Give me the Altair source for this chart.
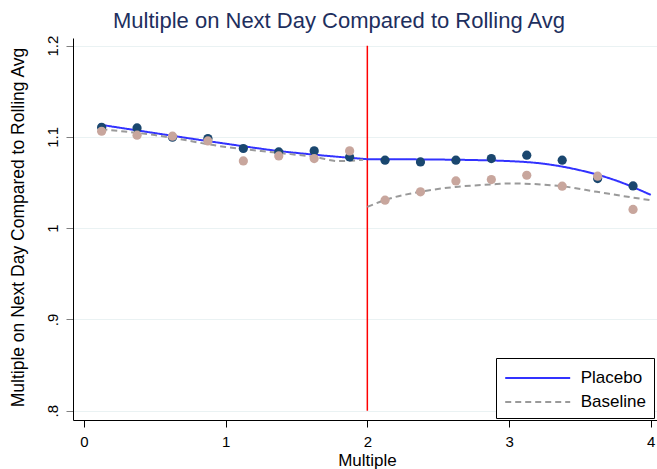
import altair as alt
import pandas as pd

# Bin midpoints of the running variable and binned means per group
bin_mid = [0.125, 0.375, 0.625, 0.875, 1.125, 1.375, 1.625, 1.875,
           2.125, 2.375, 2.625, 2.875, 3.125, 3.375, 3.625, 3.875]
placebo_means = [1.1106, 1.1099, 1.0997, 1.0982, 1.0873, 1.0836, 1.0847, 1.0781,
                 1.0745, 1.0726, 1.0745, 1.0763, 1.0800, 1.0745, 1.0544, 1.0463]
baseline_means = [1.1062, 1.1019, 1.1008, 1.0956, 1.0737, 1.0792, 1.0763, 1.0847,
                  1.0307, 1.0398, 1.0518, 1.0533, 1.0580, 1.0460, 1.0570, 1.0205]

# Smoothed fits, estimated separately on each side of the cutoff
placebo_left_x = [0.106, 0.5, 1.0, 1.374, 1.628, 2.0]
placebo_left_y = [1.1136, 1.1042, 1.0926, 1.0846, 1.0805, 1.0756]
placebo_right_x = [2.0, 2.5, 3.0, 3.25, 3.5, 3.75, 4.0]
placebo_right_y = [1.0756, 1.0752, 1.0735, 1.0705, 1.0635, 1.0525, 1.0365]
baseline_left_x = [0.123, 0.5, 1.0, 1.374, 1.628, 1.8, 1.97]
baseline_left_y = [1.1084, 1.1020, 1.0890, 1.0825, 1.0781, 1.0735, 1.0750]
baseline_right_x = [2.0, 2.122, 2.369, 2.623, 2.875, 3.0, 3.369, 3.62, 3.87, 4.0]
baseline_right_y = [1.0233, 1.0307, 1.0398, 1.0452, 1.0479, 1.0490, 1.0460, 1.0398, 1.0336, 1.0307]

cutoff = 2.0
x_ticks = [0, 1, 2, 3, 4]
y_ticks = [0.8, 0.9, 1.0, 1.1, 1.2]
series_names = ["Placebo", "Baseline"]

FONT = "Liberation Sans"


def fit_rows(series, part, xs, ys):
    return [{"series": series, "part": part, "x": a, "y": b} for a, b in zip(xs, ys)]


lines_df = pd.DataFrame(
    fit_rows("Placebo", "left", placebo_left_x, placebo_left_y)
    + fit_rows("Placebo", "right", placebo_right_x, placebo_right_y)
    + fit_rows("Baseline", "left", baseline_left_x, baseline_left_y)
    + fit_rows("Baseline", "right", baseline_right_x, baseline_right_y)
)
points_df = pd.DataFrame({"x": bin_mid, "placebo": placebo_means, "baseline": baseline_means})
cutoff_df = pd.DataFrame({"x": [cutoff], "top": [max(y_ticks)], "bottom": [min(y_ticks)]})

x_scale = alt.Scale(domain=[-0.077, 4.044], nice=False, zero=False)
y_scale = alt.Scale(domain=[0.7898, 1.2084], nice=False, zero=False)

x_axis = alt.Axis(
    values=x_ticks, title="Multiple", grid=False, tickSize=7, labelPadding=7,
    labelFontSize=15, labelFlush=False, labelColor="black",
    titleFontSize=17, titleFontWeight="normal", titleColor="black",
    titleX=294, titleY=45, titleBaseline="alphabetic", titleAlign="center",
    domainColor="black", tickColor="black",
)
y_axis = alt.Axis(
    values=y_ticks,
    labelExpr="datum.value == 1 ? '1' : replace(format(datum.value, '.1f'), '0.', '.')",
    title="Multiple on Next Day Compared to Rolling Avg",
    grid=True, gridColor="#eaf2f3", gridWidth=1,
    tickSize=7, tickColor="#808080", domainColor="black",
    labelAngle=270, labelAlign="center", labelBaseline="alphabetic", labelPadding=9,
    labelFontSize=15, labelColor="black",
    titleFontSize=17.5, titleFontWeight="normal", titleColor="black",
    titleAngle=270, titleX=-55, titleY=189, titleAlign="center", titleBaseline="middle",
)

# Wide, flat legend key: a horizontal stroke three times the nominal symbol width
legend = alt.Legend(
    title=None, orient="none", legendX=423, legendY=320, direction="vertical",
    symbolType="M-3,0H3", symbolSize=469, symbolStrokeWidth=2, symbolOffset=21.7,
    labelFontSize=17, labelFont=FONT, labelColor="black", labelOffset=31,
    padding=8, rowPadding=4, strokeColor="black", fillColor="white",
)

cutoff_rule = alt.Chart(cutoff_df).mark_rule(color="#ff0000", strokeWidth=1.5).encode(
    x=alt.X("x:Q", scale=x_scale, axis=x_axis),
    y=alt.Y("top:Q", scale=y_scale, axis=y_axis),
    y2="bottom:Q",
)

fits = alt.Chart(lines_df).mark_line(strokeWidth=2, interpolate="monotone").encode(
    x=alt.X("x:Q", scale=x_scale, axis=x_axis),
    y=alt.Y("y:Q", scale=y_scale, axis=y_axis),
    color=alt.Color("series:N", scale=alt.Scale(domain=series_names, range=["#3232ff", "#9a9a9a"]), legend=legend),
    strokeDash=alt.StrokeDash("series:N", scale=alt.Scale(domain=series_names, range=[[1, 0], [6, 4]]), legend=legend),
    detail="part:N",
)

placebo_pts = alt.Chart(points_df).mark_circle(size=85, opacity=1, color="#1a476f").encode(
    x=alt.X("x:Q", scale=x_scale, axis=x_axis),
    y=alt.Y("placebo:Q", scale=y_scale, axis=y_axis),
)
baseline_pts = alt.Chart(points_df).mark_circle(size=85, opacity=1, color="#c8a69d").encode(
    x=alt.X("x:Q", scale=x_scale, axis=x_axis),
    y=alt.Y("baseline:Q", scale=y_scale, axis=y_axis),
)

chart = alt.layer(cutoff_rule, fits, placebo_pts, baseline_pts).properties(
    width=584,
    height=382,
    padding={"left": 73, "top": 38, "right": 0, "bottom": 49},
    autosize=alt.AutoSizeParams(type="none"),
    background="white",
    title=alt.TitleParams(
        text="Multiple on Next Day Compared to Rolling Avg",
        fontSize=22, font=FONT, color="#1e2f5e", fontWeight="normal",
        anchor="middle", frame="group", dx=-26, dy=26, offset=6, baseline="bottom",
    ),
).configure_view(stroke=None).configure_axis(labelFont=FONT, titleFont=FONT)

chart.save("out.html", embed_options={"renderer": "svg", "actions": False})
